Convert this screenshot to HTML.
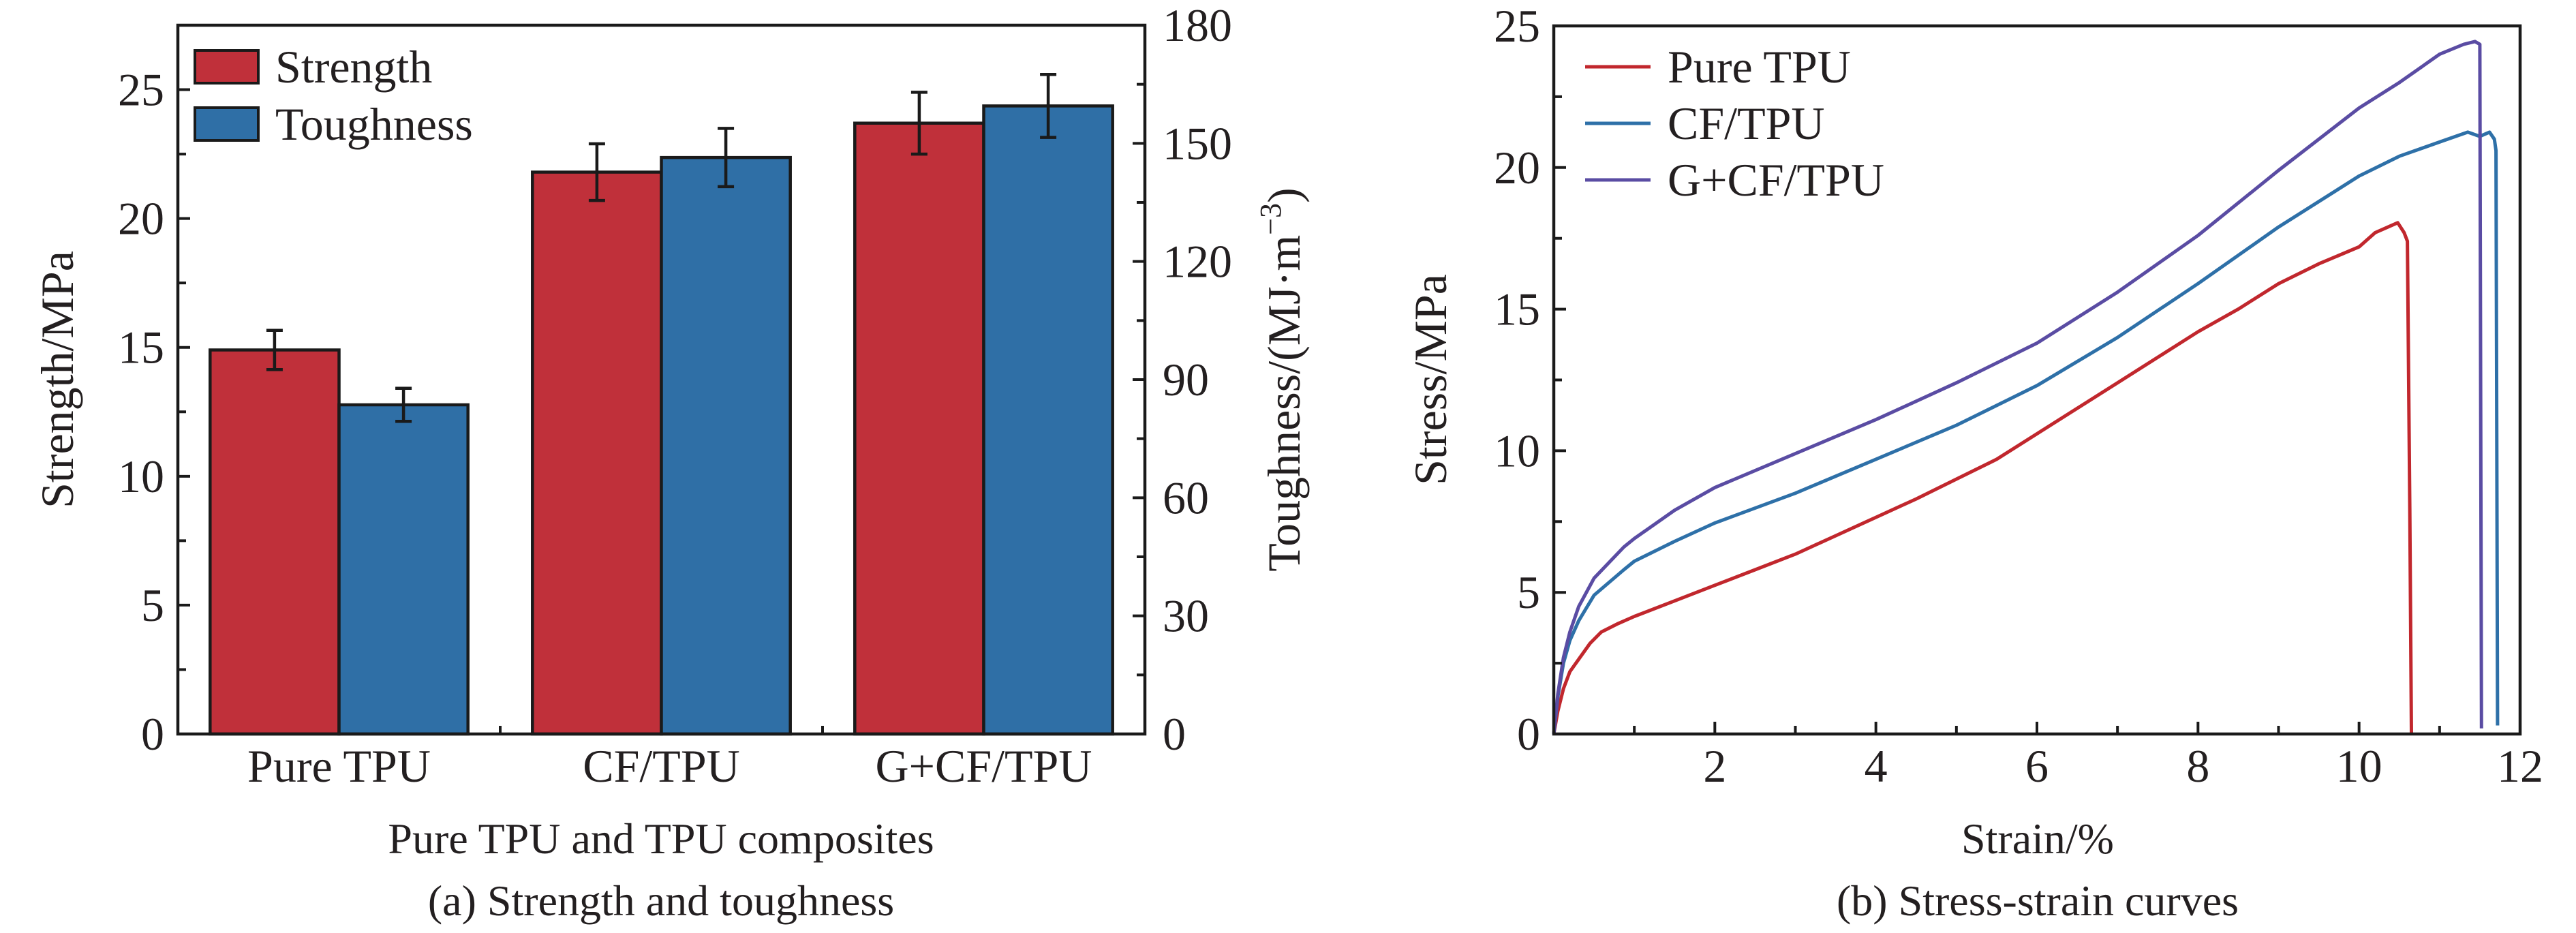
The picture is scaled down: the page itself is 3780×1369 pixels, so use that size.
<!DOCTYPE html>
<html><head><meta charset="utf-8">
<style>
html,body{margin:0;padding:0;background:#fff;}
svg{display:block;}
text{font-family:"Liberation Serif",serif;fill:#231f20;}
</style></head>
<body>
<svg id="fig" width="3780" height="1369" viewBox="0 0 3780 1369" xmlns="http://www.w3.org/2000/svg">
<g id="chartA"></g>
<g id="chartB"></g>
</svg>
<script>
// ---- Chart (a) data ----
const categories = ["Pure TPU", "CF/TPU", "G+CF/TPU"];
const strengthValues = [14.9, 21.8, 23.7];
const strengthErrors = [0.76, 1.1, 1.2];
const toughnessValues = [83.6, 146.4, 159.5];
const toughnessErrors = [4.2, 7.4, 8.0];
const leftTicks = [0, 5, 10, 15, 20, 25];
const rightTicks = [0, 30, 60, 90, 120, 150, 180];

// ---- Chart (b) data ----
const strainTicks = [2, 4, 6, 8, 10, 12];
const stressTicks = [0, 5, 10, 15, 20, 25];
const pureStrain = [0,0.05,0.12,0.2,0.31,0.45,0.59,0.8,1,1.5,2,2.5,3,3.5,4,4.5,5,5.5,6,6.5,7,7.5,8,8.5,9,9.5,10,10.2,10.48,10.56,10.6,10.63,10.65];
const pureStress = [0,0.8,1.6,2.2,2.64,3.2,3.6,3.9,4.15,4.7,5.25,5.8,6.35,7.0,7.65,8.3,9.0,9.7,10.6,11.5,12.4,13.3,14.2,15.0,15.9,16.6,17.2,17.7,18.05,17.7,17.4,8,0];
const cfStrain = [0,0.05,0.12,0.2,0.31,0.5,0.87,1,1.5,2,3,4,5,6,7,8,9,10,10.5,11,11.35,11.5,11.62,11.68,11.7,11.72];
const cfStress = [0,1.3,2.5,3.3,4.0,4.9,5.8,6.1,6.8,7.45,8.5,9.7,10.9,12.3,14.0,15.9,17.9,19.7,20.4,20.9,21.25,21.1,21.25,21.0,20.6,0.3];
const gStrain = [0,0.05,0.12,0.2,0.31,0.5,0.87,1,1.5,2,3,4,5,6,7,8,9,10,10.5,11,11.3,11.44,11.5,11.51,11.52];
const gStress = [0,1.4,2.7,3.6,4.5,5.5,6.6,6.9,7.9,8.7,9.9,11.1,12.4,13.8,15.6,17.6,19.9,22.1,23.0,24.0,24.35,24.45,24.35,12,0.2];

const NS = "http://www.w3.org/2000/svg";
function mk(parent, tag, attrs, txt){
  const e = document.createElementNS(NS, tag);
  for (const k in attrs) e.setAttribute(k, attrs[k]);
  if (txt !== undefined) e.textContent = txt;
  parent.appendChild(e);
  return e;
}
const FS = 68;
const TS = 64;

// ================= Chart A =================
const A = document.getElementById('chartA');
const ax0 = 261, ax1 = 1680, ay0 = 1077, ay1 = 37;
const yL = v => ay0 - (v / 27.5) * (ay0 - ay1);
const yR = v => ay0 - (v / 180) * (ay0 - ay1);
const catW = (ax1 - ax0) / categories.length;
const xC = i => ax0 + catW * (i + 0.5);
const barW = catW * 0.4;

categories.forEach((c, i) => {
  const cx = xC(i);
  const r = mk(A, 'rect', {x: cx - barW, y: yL(strengthValues[i]), width: barW, height: ay0 - yL(strengthValues[i]), fill: '#c0303a', stroke: '#1a1a1a', 'stroke-width': 4.5});
  
  
  const b = mk(A, 'rect', {x: cx, y: yR(toughnessValues[i]), width: barW, height: ay0 - yR(toughnessValues[i]), fill: '#2f6fa6', stroke: '#1a1a1a', 'stroke-width': 4.5});
  
  
  const ex1 = cx - barW / 2, ex2 = cx + barW / 2;
  const e1 = mk(A, 'path', {d: `M${ex1} ${yL(strengthValues[i]+strengthErrors[i])}V${yL(strengthValues[i]-strengthErrors[i])}M${ex1-12} ${yL(strengthValues[i]+strengthErrors[i])}h24M${ex1-12} ${yL(strengthValues[i]-strengthErrors[i])}h24`, stroke: '#1a1a1a', 'stroke-width': 4.5, fill: 'none'});
  
  
  const e2 = mk(A, 'path', {d: `M${ex2} ${yR(toughnessValues[i]+toughnessErrors[i])}V${yR(toughnessValues[i]-toughnessErrors[i])}M${ex2-12} ${yR(toughnessValues[i]+toughnessErrors[i])}h24M${ex2-12} ${yR(toughnessValues[i]-toughnessErrors[i])}h24`, stroke: '#1a1a1a', 'stroke-width': 4.5, fill: 'none'});
  
  
  const t = mk(A, 'text', {x: cx, y: 1147, 'font-size': FS, 'text-anchor': 'middle'}, c);
  
  
  if (i > 0) mk(A, 'line', {x1: ax0 + catW * i, x2: ax0 + catW * i, y1: ay0, y2: ay0 - 12, stroke: '#1a1a1a', 'stroke-width': 4});
});
const fa = mk(A, 'rect', {x: ax0, y: ay1, width: ax1 - ax0, height: ay0 - ay1, fill: 'none', stroke: '#1a1a1a', 'stroke-width': 4.5});


for (let v = 0; v <= 27.5; v += 2.5) {
  const major = Math.abs(v % 5) < 1e-6;
  mk(A, 'line', {x1: ax0, x2: ax0 + (major ? 18 : 12), y1: yL(v), y2: yL(v), stroke: '#1a1a1a', 'stroke-width': 4});
}
leftTicks.forEach(v => {
  const t = mk(A, 'text', {x: ax0 - 20, y: yL(v) + 23, 'font-size': FS, 'text-anchor': 'end'}, v);
  
  
});
for (let v = 0; v <= 180; v += 15) {
  const major = v % 30 === 0;
  mk(A, 'line', {x1: ax1, x2: ax1 - (major ? 18 : 12), y1: yR(v), y2: yR(v), stroke: '#1a1a1a', 'stroke-width': 4});
}
rightTicks.forEach(v => {
  const t = mk(A, 'text', {x: ax1 + 26, y: yR(v) + 23, 'font-size': FS, 'text-anchor': 'start'}, v);
  
  
});
let t;
t = mk(A, 'text', {x: 0, y: 0, 'font-size': FS, 'text-anchor': 'middle', transform: 'translate(107,557) rotate(-90)'}, 'Strength/MPa');
 
t = mk(A, 'text', {x: 0, y: 0, 'font-size': FS, 'text-anchor': 'middle', transform: 'translate(1907,557) rotate(-90)'});
 
t.innerHTML = 'Toughness/(MJ·m<tspan dy="-28" font-size="44">−3</tspan><tspan dy="28">)</tspan>';
t = mk(A, 'text', {x: 970, y: 1252, 'font-size': TS, 'text-anchor': 'middle'}, 'Pure TPU and TPU composites');
 
t = mk(A, 'text', {x: 970, y: 1343, 'font-size': TS, 'text-anchor': 'middle'}, '(a) Strength and toughness');
 
let lg = mk(A, 'rect', {x: 286, y: 74, width: 93, height: 48, fill: '#c0303a', stroke: '#1a1a1a', 'stroke-width': 4});
 
lg = mk(A, 'rect', {x: 286, y: 158, width: 93, height: 48, fill: '#2f6fa6', stroke: '#1a1a1a', 'stroke-width': 4});
 
t = mk(A, 'text', {x: 404, y: 121, 'font-size': FS}, 'Strength');
 
t = mk(A, 'text', {x: 404, y: 205, 'font-size': FS}, 'Toughness');
 

// ================= Chart B =================
const B = document.getElementById('chartB');
const bx0 = 2280, bx1 = 3698, by0 = 1077, by1 = 38;
const xS = v => bx0 + (v / 12) * (bx1 - bx0);
const yS = v => by0 - (v / 25) * (by0 - by1);
function curve(xs, ys, color, name){
  const d = xs.map((x, i) => (i ? 'L' : 'M') + xS(x).toFixed(1) + ' ' + yS(ys[i]).toFixed(1)).join('');
  const p = mk(B, 'path', {d: d, stroke: color, 'stroke-width': 5, fill: 'none', 'stroke-linejoin': 'round'});
  
  
}
curve(pureStrain, pureStress, '#c1272d', 'pure-tpu-curve');
curve(cfStrain, cfStress, '#2e70a8', 'cf-tpu-curve');
curve(gStrain, gStress, '#5a4ca3', 'g-cf-tpu-curve');
const fb = mk(B, 'rect', {x: bx0, y: by1, width: bx1 - bx0, height: by0 - by1, fill: 'none', stroke: '#1a1a1a', 'stroke-width': 4.5});
 
for (let v = 1; v < 12; v++) {
  const major = v % 2 === 0;
  mk(B, 'line', {x1: xS(v), x2: xS(v), y1: by0, y2: by0 - (major ? 18 : 12), stroke: '#1a1a1a', 'stroke-width': 4});
}
strainTicks.forEach(v => {
  const tt = mk(B, 'text', {x: xS(v), y: 1147, 'font-size': FS, 'text-anchor': 'middle'}, v);
   
});
for (let v = 2.5; v < 25; v += 2.5) {
  const major = Math.abs(v % 5) < 1e-6;
  mk(B, 'line', {x1: bx0, x2: bx0 + (major ? 18 : 12), y1: yS(v), y2: yS(v), stroke: '#1a1a1a', 'stroke-width': 4});
}
stressTicks.forEach(v => {
  const tt = mk(B, 'text', {x: bx0 - 20, y: yS(v) + 23, 'font-size': FS, 'text-anchor': 'end'}, v);
   
});
t = mk(B, 'text', {x: 0, y: 0, 'font-size': FS, 'text-anchor': 'middle', transform: 'translate(2122,557) rotate(-90)'}, 'Stress/MPa');
 
t = mk(B, 'text', {x: 2990, y: 1252, 'font-size': TS, 'text-anchor': 'middle'}, 'Strain/%');
 
t = mk(B, 'text', {x: 2990, y: 1343, 'font-size': TS, 'text-anchor': 'middle'}, '(b) Stress-strain curves');
 
const legNames = ['Pure TPU', 'CF/TPU', 'G+CF/TPU'];
const legColors = ['#c1272d', '#2e70a8', '#5a4ca3'];
legNames.forEach((n, i) => {
  const y = 98 + i * 83;
  const l = mk(B, 'line', {x1: 2326, x2: 2422, y1: y, y2: y, stroke: legColors[i], 'stroke-width': 5});
  
  
  const tt = mk(B, 'text', {x: 2447, y: y + 23, 'font-size': FS}, n);
  
  
});
</script>
</body></html>
